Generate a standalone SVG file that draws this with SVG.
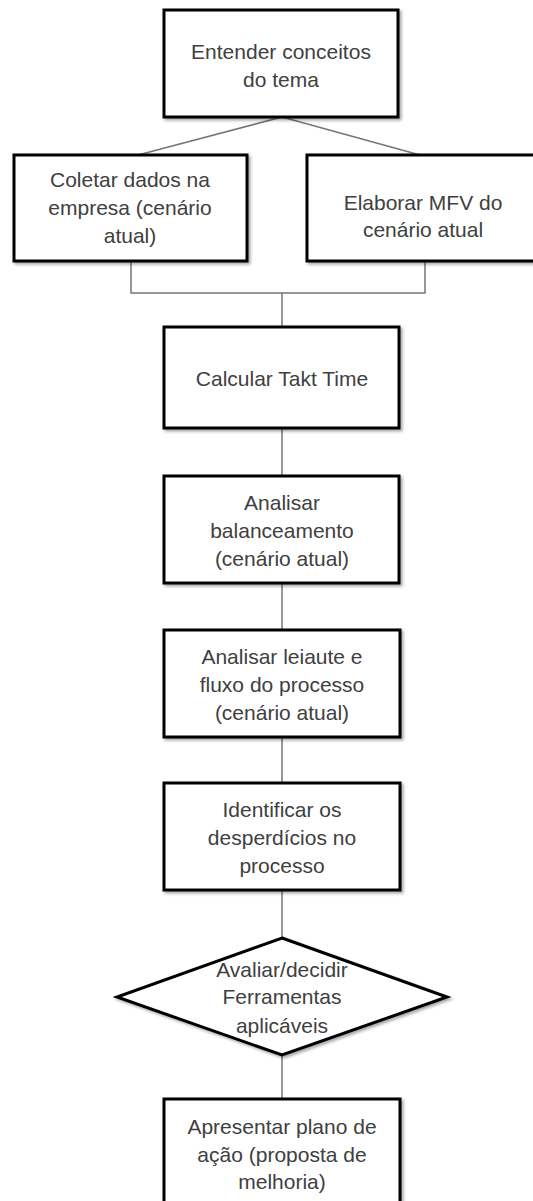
<svg xmlns="http://www.w3.org/2000/svg" width="533" height="1201" viewBox="0 0 533 1201">
  <defs>
    <filter id="shadow" x="-10%" y="-10%" width="125%" height="130%">
      <feDropShadow dx="2" dy="2" stdDeviation="1.5" flood-color="#000" flood-opacity="0.35"/>
    </filter>
    <style>
      .box { fill: #fff; stroke: #000; stroke-width: 3; filter: url(#shadow); }
      .lbl { font-family: "Liberation Sans", Arial, sans-serif; font-size: 21px; fill: #404040; text-anchor: middle; }
      .conn { fill: none; stroke: #767676; stroke-width: 1.5; }
    </style>
  </defs>
  <rect width="533" height="1201" fill="#fff"/>

  <!-- connectors -->
  <g id="connectors" class="conn">
    <path d="M282 117 L138 155"/>
    <path d="M282 117 L420 155"/>
    <path d="M131 262 V293 H425 V262"/>
    <path d="M282 293 V327"/>
    <path d="M282 428 V476"/>
    <path d="M282 583 V630"/>
    <path d="M282 737 V783"/>
    <path d="M282 890 V938"/>
    <path d="M282 1055 V1099"/>
  </g>

  <g id="n-entender">
    <rect class="box" x="164" y="10" width="234" height="107"/>
    <text class="lbl" x="281" y="59">Entender conceitos</text>
    <text class="lbl" x="281" y="87">do tema</text>
  </g>

  <g id="n-coletar">
    <rect class="box" x="14" y="155" width="233" height="106"/>
    <text class="lbl" x="130" y="187">Coletar dados na</text>
    <text class="lbl" x="130" y="215">empresa (cenário</text>
    <text class="lbl" x="130" y="243">atual)</text>
  </g>

  <g id="n-elaborar">
    <rect class="box" x="307" y="155" width="232" height="106"/>
    <text class="lbl" x="423" y="210">Elaborar MFV do</text>
    <text class="lbl" x="423" y="237">cenário atual</text>
  </g>

  <g id="n-takt">
    <rect class="box" x="164" y="327" width="235" height="101"/>
    <text class="lbl" x="282" y="386">Calcular Takt Time</text>
  </g>

  <g id="n-balanceamento">
    <rect class="box" x="164" y="476" width="235" height="107"/>
    <text class="lbl" x="282" y="510">Analisar</text>
    <text class="lbl" x="282" y="538">balanceamento</text>
    <text class="lbl" x="282" y="566">(cenário atual)</text>
  </g>

  <g id="n-leiaute">
    <rect class="box" x="164" y="630" width="236" height="107"/>
    <text class="lbl" x="282" y="664">Analisar leiaute e</text>
    <text class="lbl" x="282" y="692">fluxo do processo</text>
    <text class="lbl" x="282" y="720">(cenário atual)</text>
  </g>

  <g id="n-desperdicios">
    <rect class="box" x="164" y="783" width="236" height="107"/>
    <text class="lbl" x="282" y="817">Identificar os</text>
    <text class="lbl" x="282" y="845">desperdícios no</text>
    <text class="lbl" x="282" y="873">processo</text>
  </g>

  <g id="n-ferramentas">
    <polygon class="box" points="282,938 447,997 282,1055 117,997"/>
    <text class="lbl" x="282" y="977">Avaliar/decidir</text>
    <text class="lbl" x="282" y="1004">Ferramentas</text>
    <text class="lbl" x="282" y="1033">aplicáveis</text>
  </g>

  <g id="n-plano">
    <rect class="box" x="164" y="1099" width="236" height="110"/>
    <text class="lbl" x="282" y="1134">Apresentar plano de</text>
    <text class="lbl" x="282" y="1162">ação (proposta de</text>
    <text class="lbl" x="282" y="1189">melhoria)</text>
  </g>
</svg>
